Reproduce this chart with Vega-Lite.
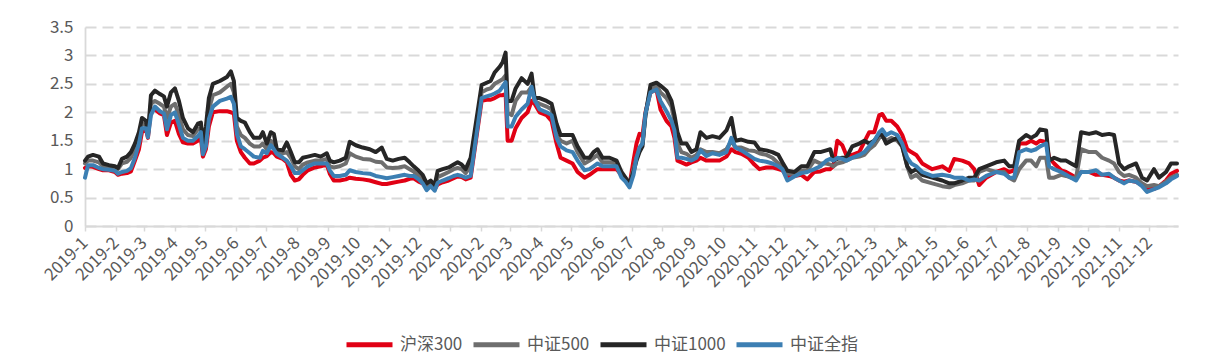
{
  "$schema": "https://vega.github.io/schema/vega-lite/v6.json",
  "width": 1093,
  "height": 199,
  "autosize": {"type": "none"},
  "padding": {"left": 85, "top": 27, "right": 29, "bottom": 138},
  "background": "white",
  "config": {"view": {"stroke": null}, "font": "Noto Sans CJK SC"},
  "data": {"values": [
    {"date":"2019-01-01","沪深300":1.02,"中证500":1.1,"中证1000":1.15,"中证全指":0.85},
    {"date":"2019-01-04","沪深300":1.05,"中证500":1.15,"中证1000":1.22,"中证全指":1.07},
    {"date":"2019-01-09","沪深300":1.04,"中证500":1.15,"中证1000":1.25,"中证全指":1.07},
    {"date":"2019-01-15","沪深300":1.0,"中证500":1.12,"中证1000":1.22,"中证全指":1.02},
    {"date":"2019-01-19","沪深300":0.98,"中证500":1.05,"中证1000":1.1,"中证全指":1.0},
    {"date":"2019-01-25","沪深300":0.98,"中证500":1.02,"中证1000":1.07,"中证全指":0.99},
    {"date":"2019-01-31","沪深300":0.95,"中证500":1.0,"中证1000":1.05,"中证全指":0.97},
    {"date":"2019-02-03","沪深300":0.9,"中证500":1.0,"中证1000":1.02,"中证全指":0.92},
    {"date":"2019-02-07","沪深300":0.92,"中证500":1.1,"中证1000":1.18,"中证全指":0.95},
    {"date":"2019-02-12","沪深300":0.93,"中证500":1.13,"中证1000":1.22,"中证全指":0.97},
    {"date":"2019-02-16","沪深300":0.96,"中证500":1.2,"中证1000":1.3,"中证全指":1.02},
    {"date":"2019-02-20","沪深300":1.15,"中证500":1.35,"中证1000":1.45,"中证全指":1.2},
    {"date":"2019-02-24","沪深300":1.35,"中证500":1.55,"中证1000":1.65,"中证全指":1.45},
    {"date":"2019-02-27","沪深300":1.65,"中证500":1.8,"中证1000":1.9,"中证全指":1.72},
    {"date":"2019-03-03","沪深300":1.7,"中证500":1.78,"中证1000":1.85,"中证全指":1.72},
    {"date":"2019-03-05","沪深300":1.55,"中证500":1.6,"中证1000":1.62,"中证全指":1.56},
    {"date":"2019-03-08","沪深300":2.05,"中证500":2.15,"中证1000":2.3,"中证全指":1.95},
    {"date":"2019-03-12","沪深300":2.05,"中证500":2.2,"中证1000":2.38,"中证全指":2.1},
    {"date":"2019-03-17","沪深300":1.98,"中证500":2.15,"中证1000":2.32,"中证全指":2.02},
    {"date":"2019-03-21","沪深300":1.95,"中证500":2.1,"中证1000":2.28,"中证全指":1.98},
    {"date":"2019-03-24","沪深300":1.6,"中证500":1.9,"中证1000":2.1,"中证全指":1.7},
    {"date":"2019-03-28","沪深300":1.82,"中证500":2.1,"中证1000":2.35,"中证全指":1.95},
    {"date":"2019-04-01","沪深300":1.85,"中证500":2.15,"中证1000":2.42,"中证全指":2.0},
    {"date":"2019-04-05","沪深300":1.62,"中证500":1.95,"中证1000":2.2,"中证全指":1.78},
    {"date":"2019-04-09","沪深300":1.47,"中证500":1.7,"中证1000":1.9,"中证全指":1.55},
    {"date":"2019-04-14","沪深300":1.45,"中证500":1.6,"中证1000":1.72,"中证全指":1.5},
    {"date":"2019-04-19","沪深300":1.45,"中证500":1.58,"中证1000":1.65,"中证全指":1.5},
    {"date":"2019-04-24","沪深300":1.5,"中证500":1.7,"中证1000":1.8,"中证全指":1.58},
    {"date":"2019-04-27","沪深300":1.55,"中证500":1.72,"中证1000":1.82,"中证全指":1.65},
    {"date":"2019-04-29","沪深300":1.22,"中证500":1.35,"中证1000":1.45,"中证全指":1.26},
    {"date":"2019-05-02","沪深300":1.35,"中证500":1.6,"中证1000":1.75,"中证全指":1.4},
    {"date":"2019-05-05","沪深300":1.75,"中证500":2.05,"中证1000":2.25,"中证全指":1.88},
    {"date":"2019-05-09","沪深300":2.0,"中证500":2.3,"中证1000":2.5,"中证全指":2.1},
    {"date":"2019-05-16","沪深300":2.02,"中证500":2.35,"中证1000":2.55,"中证全指":2.2},
    {"date":"2019-05-23","沪深300":2.02,"中证500":2.45,"中证1000":2.62,"中证全指":2.24},
    {"date":"2019-05-27","沪深300":2.0,"中证500":2.5,"中证1000":2.72,"中证全指":2.27},
    {"date":"2019-05-30","沪深300":1.98,"中证500":2.35,"中证1000":2.55,"中证全指":2.15},
    {"date":"2019-06-02","沪深300":1.5,"中证500":1.75,"中证1000":1.9,"中证全指":1.62},
    {"date":"2019-06-06","沪深300":1.3,"中证500":1.6,"中证1000":1.85,"中证全指":1.4},
    {"date":"2019-06-10","沪深300":1.2,"中证500":1.55,"中证1000":1.82,"中证全指":1.35},
    {"date":"2019-06-15","沪深300":1.1,"中证500":1.45,"中证1000":1.65,"中证全指":1.28},
    {"date":"2019-06-19","沪深300":1.1,"中证500":1.4,"中证1000":1.55,"中证全指":1.22},
    {"date":"2019-06-25","沪深300":1.15,"中证500":1.4,"中证1000":1.55,"中证全指":1.2},
    {"date":"2019-06-28","沪深300":1.2,"中证500":1.45,"中证1000":1.65,"中证全指":1.32},
    {"date":"2019-07-02","沪深300":1.23,"中证500":1.35,"中证1000":1.45,"中证全指":1.28},
    {"date":"2019-07-06","沪深300":1.3,"中证500":1.5,"中证1000":1.65,"中证全指":1.42},
    {"date":"2019-07-09","沪深300":1.28,"中证500":1.45,"中证1000":1.62,"中证全指":1.35},
    {"date":"2019-07-12","沪深300":1.22,"中证500":1.3,"中证1000":1.35,"中证全指":1.27},
    {"date":"2019-07-18","沪深300":1.18,"中证500":1.28,"中证1000":1.33,"中证全指":1.2},
    {"date":"2019-07-22","沪深300":1.12,"中证500":1.3,"中证1000":1.47,"中证全指":1.15},
    {"date":"2019-07-26","沪深300":0.9,"中证500":1.2,"中证1000":1.3,"中证全指":1.05},
    {"date":"2019-07-30","沪深300":0.8,"中证500":1.05,"中证1000":1.12,"中证全指":0.93},
    {"date":"2019-08-03","沪深300":0.82,"中证500":1.0,"中证1000":1.12,"中证全指":0.93},
    {"date":"2019-08-07","沪深300":0.9,"中证500":1.08,"中证1000":1.2,"中证全指":0.98},
    {"date":"2019-08-12","沪深300":0.98,"中证500":1.12,"中证1000":1.22,"中证全指":1.05},
    {"date":"2019-08-19","沪深300":1.03,"中证500":1.15,"中证1000":1.25,"中证全指":1.1},
    {"date":"2019-08-25","沪深300":1.05,"中证500":1.15,"中证1000":1.22,"中证全指":1.1},
    {"date":"2019-08-31","沪深300":1.08,"中证500":1.18,"中证1000":1.28,"中证全指":1.1},
    {"date":"2019-09-03","沪深300":0.92,"中证500":1.05,"中证1000":1.15,"中证全指":0.98},
    {"date":"2019-09-07","沪深300":0.8,"中证500":1.03,"中证1000":1.12,"中证全指":0.88},
    {"date":"2019-09-13","沪深300":0.8,"中证500":1.05,"中证1000":1.15,"中证全指":0.88},
    {"date":"2019-09-19","沪深300":0.82,"中证500":1.1,"中证1000":1.2,"中证全指":0.9},
    {"date":"2019-09-23","沪深300":0.85,"中证500":1.28,"中证1000":1.48,"中证全指":0.98},
    {"date":"2019-09-29","沪深300":0.83,"中证500":1.22,"中证1000":1.42,"中证全指":0.95},
    {"date":"2019-10-06","沪深300":0.82,"中证500":1.18,"中证1000":1.38,"中证全指":0.93},
    {"date":"2019-10-13","沪深300":0.8,"中证500":1.17,"中证1000":1.35,"中证全指":0.92},
    {"date":"2019-10-19","沪深300":0.77,"中证500":1.13,"中证1000":1.3,"中证全指":0.88},
    {"date":"2019-10-25","沪深300":0.74,"中证500":1.12,"中证1000":1.38,"中证全指":0.86},
    {"date":"2019-10-30","沪深300":0.74,"中证500":1.03,"中证1000":1.18,"中证全指":0.84},
    {"date":"2019-11-05","沪深300":0.76,"中证500":1.02,"中证1000":1.15,"中证全指":0.86},
    {"date":"2019-11-11","沪深300":0.78,"中证500":1.03,"中证1000":1.18,"中证全指":0.88},
    {"date":"2019-11-17","沪深300":0.8,"中证500":1.05,"中证1000":1.2,"中证全指":0.9},
    {"date":"2019-11-22","沪深300":0.83,"中证500":1.0,"中证1000":1.12,"中证全指":0.88},
    {"date":"2019-11-26","沪深300":0.84,"中证500":0.96,"中证1000":1.05,"中证全指":0.88},
    {"date":"2019-12-01","沪深300":0.78,"中证500":0.88,"中证1000":0.97,"中证全指":0.82},
    {"date":"2019-12-05","沪深300":0.75,"中证500":0.82,"中证1000":0.9,"中证全指":0.75},
    {"date":"2019-12-09","沪深300":0.68,"中证500":0.7,"中证1000":0.75,"中证全指":0.63},
    {"date":"2019-12-13","沪深300":0.7,"中证500":0.75,"中证1000":0.8,"中证全指":0.7},
    {"date":"2019-12-17","沪深300":0.65,"中证500":0.68,"中证1000":0.72,"中证全指":0.62},
    {"date":"2019-12-20","沪深300":0.73,"中证500":0.86,"中证1000":0.97,"中证全指":0.76},
    {"date":"2019-12-25","沪深300":0.77,"中证500":0.9,"中证1000":1.0,"中证全指":0.8},
    {"date":"2019-12-31","沪深300":0.8,"中证500":0.95,"中证1000":1.03,"中证全指":0.84},
    {"date":"2020-01-05","沪深300":0.84,"中证500":1.0,"中证1000":1.08,"中证全指":0.88},
    {"date":"2020-01-09","沪深300":0.87,"中证500":1.02,"中证1000":1.12,"中证全指":0.9},
    {"date":"2020-01-13","沪深300":0.86,"中证500":1.0,"中证1000":1.08,"中证全指":0.88},
    {"date":"2020-01-17","沪深300":0.82,"中证500":0.93,"中证1000":1.0,"中证全指":0.85},
    {"date":"2020-01-22","沪深300":0.85,"中证500":1.05,"中证1000":1.2,"中证全指":0.88},
    {"date":"2020-02-02","沪深300":2.2,"中证500":2.35,"中证1000":2.48,"中证全指":2.25},
    {"date":"2020-02-07","沪深300":2.22,"中证500":2.4,"中证1000":2.52,"中证全指":2.28},
    {"date":"2020-02-11","沪深300":2.22,"中证500":2.42,"中证1000":2.55,"中证全指":2.3},
    {"date":"2020-02-15","沪深300":2.25,"中证500":2.5,"中证1000":2.7,"中证全指":2.33},
    {"date":"2020-02-20","沪深300":2.3,"中证500":2.55,"中证1000":2.8,"中证全指":2.38},
    {"date":"2020-02-23","沪深300":2.3,"中证500":2.58,"中证1000":2.88,"中证全指":2.45},
    {"date":"2020-02-26","沪深300":2.32,"中证500":2.65,"中证1000":3.05,"中证全指":2.53},
    {"date":"2020-02-28","沪深300":1.5,"中证500":2.0,"中证1000":2.2,"中证全指":1.75},
    {"date":"2020-03-03","沪深300":1.5,"中证500":1.95,"中证1000":2.2,"中证全指":1.75},
    {"date":"2020-03-07","沪深300":1.72,"中证500":2.2,"中证1000":2.42,"中证全指":1.92},
    {"date":"2020-03-13","沪深300":1.9,"中证500":2.35,"中证1000":2.6,"中证全指":2.05},
    {"date":"2020-03-19","沪深300":2.0,"中证500":2.35,"中证1000":2.5,"中证全指":2.15},
    {"date":"2020-03-23","沪深300":2.2,"中证500":2.45,"中证1000":2.68,"中证全指":2.45},
    {"date":"2020-03-26","沪深300":2.15,"中证500":2.2,"中证1000":2.25,"中证全指":2.22},
    {"date":"2020-03-31","沪深300":2.0,"中证500":2.15,"中证1000":2.25,"中证全指":2.05},
    {"date":"2020-04-07","沪深300":1.95,"中证500":2.1,"中证1000":2.2,"中证全指":2.0},
    {"date":"2020-04-12","沪深300":1.85,"中证500":2.05,"中证1000":2.15,"中证全指":1.95},
    {"date":"2020-04-17","沪深300":1.45,"中证500":1.6,"中证1000":1.8,"中证全指":1.55},
    {"date":"2020-04-21","沪深300":1.2,"中证500":1.5,"中证1000":1.6,"中证全指":1.4},
    {"date":"2020-04-27","沪深300":1.15,"中证500":1.45,"中证1000":1.6,"中证全指":1.33},
    {"date":"2020-05-03","沪深300":1.1,"中证500":1.5,"中证1000":1.6,"中证全指":1.3},
    {"date":"2020-05-08","沪深300":0.95,"中证500":1.3,"中证1000":1.4,"中证全指":1.15},
    {"date":"2020-05-15","沪深300":0.85,"中证500":1.1,"中证1000":1.2,"中证全指":0.98},
    {"date":"2020-05-20","沪深300":0.9,"中证500":1.15,"中证1000":1.2,"中证全指":1.0},
    {"date":"2020-05-24","沪深300":0.95,"中证500":1.2,"中证1000":1.3,"中证全指":1.05},
    {"date":"2020-05-28","沪深300":1.0,"中证500":1.25,"中证1000":1.35,"中证全指":1.1},
    {"date":"2020-06-02","沪深300":1.0,"中证500":1.12,"中证1000":1.2,"中证全指":1.05},
    {"date":"2020-06-09","沪深300":1.0,"中证500":1.12,"中证1000":1.2,"中证全指":1.05},
    {"date":"2020-06-16","沪深300":1.0,"中证500":1.1,"中证1000":1.15,"中证全指":1.05},
    {"date":"2020-06-21","沪深300":0.9,"中证500":0.92,"中证1000":0.95,"中证全指":0.85},
    {"date":"2020-06-25","沪深300":0.8,"中证500":0.83,"中证1000":0.85,"中证全指":0.78},
    {"date":"2020-06-29","沪深300":0.72,"中证500":0.73,"中证1000":0.75,"中证全指":0.68},
    {"date":"2020-07-03","沪深300":1.15,"中证500":1.0,"中证1000":0.95,"中证全指":0.9},
    {"date":"2020-07-06","沪深300":1.45,"中证500":1.2,"中证1000":1.15,"中证全指":1.2},
    {"date":"2020-07-09","沪深300":1.62,"中证500":1.35,"中证1000":1.3,"中证全指":1.38},
    {"date":"2020-07-12","沪深300":1.6,"中证500":1.45,"中证1000":1.4,"中证全指":1.45},
    {"date":"2020-07-15","沪深300":2.0,"中证500":1.97,"中证1000":1.95,"中证全指":1.98},
    {"date":"2020-07-20","沪深300":2.35,"中证500":2.42,"中证1000":2.48,"中证全指":2.35},
    {"date":"2020-07-26","沪深300":2.4,"中证500":2.48,"中证1000":2.52,"中证全指":2.4},
    {"date":"2020-07-30","沪深300":2.05,"中证500":2.35,"中证1000":2.47,"中证全指":2.2},
    {"date":"2020-08-05","沪深300":1.85,"中证500":2.25,"中证1000":2.38,"中证全指":2.02},
    {"date":"2020-08-10","沪深300":1.75,"中证500":2.1,"中证1000":2.2,"中证全指":1.85},
    {"date":"2020-08-13","沪深300":1.55,"中证500":1.85,"中证1000":1.95,"中证全指":1.68},
    {"date":"2020-08-16","沪深300":1.15,"中证500":1.45,"中证1000":1.65,"中证全指":1.2},
    {"date":"2020-08-20","沪深300":1.12,"中证500":1.3,"中证1000":1.45,"中证全指":1.2},
    {"date":"2020-08-25","沪深300":1.08,"中证500":1.27,"中证1000":1.45,"中证全指":1.18},
    {"date":"2020-08-30","沪深300":1.12,"中证500":1.2,"中证1000":1.3,"中证全指":1.15},
    {"date":"2020-09-04","沪深300":1.15,"中证500":1.25,"中证1000":1.35,"中证全指":1.2},
    {"date":"2020-09-08","沪深300":1.2,"中证500":1.35,"中证1000":1.65,"中证全指":1.33},
    {"date":"2020-09-14","沪深300":1.15,"中证500":1.3,"中证1000":1.55,"中证全指":1.23},
    {"date":"2020-09-20","沪深300":1.15,"中证500":1.3,"中证1000":1.58,"中证全指":1.28},
    {"date":"2020-09-27","沪深300":1.15,"中证500":1.28,"中证1000":1.55,"中证全指":1.25},
    {"date":"2020-10-04","沪深300":1.22,"中证500":1.35,"中证1000":1.68,"中证全指":1.3},
    {"date":"2020-10-09","沪深300":1.35,"中证500":1.5,"中证1000":1.9,"中证全指":1.55},
    {"date":"2020-10-13","沪深300":1.3,"中证500":1.38,"中证1000":1.5,"中证全指":1.38},
    {"date":"2020-10-19","沪深300":1.27,"中证500":1.38,"中证1000":1.52,"中证全指":1.33},
    {"date":"2020-10-26","沪深300":1.2,"中证500":1.33,"中证1000":1.48,"中证全指":1.25},
    {"date":"2020-11-01","沪深300":1.08,"中证500":1.32,"中证1000":1.47,"中证全指":1.18},
    {"date":"2020-11-06","沪深300":1.0,"中证500":1.28,"中证1000":1.35,"中证全指":1.15},
    {"date":"2020-11-13","沪深300":1.03,"中证500":1.25,"中证1000":1.33,"中证全指":1.13},
    {"date":"2020-11-19","沪深300":1.03,"中证500":1.2,"中证1000":1.3,"中证全指":1.1},
    {"date":"2020-11-25","沪深300":1.0,"中证500":1.1,"中证1000":1.25,"中证全指":1.05},
    {"date":"2020-11-29","沪深300":0.98,"中证500":1.05,"中证1000":1.12,"中证全指":1.0},
    {"date":"2020-12-04","沪深300":0.87,"中证500":0.92,"中证1000":0.97,"中证全指":0.8},
    {"date":"2020-12-11","沪深300":0.88,"中证500":0.92,"中证1000":0.95,"中证全指":0.87},
    {"date":"2020-12-18","沪深300":0.9,"中证500":0.97,"中证1000":1.05,"中证全指":0.93},
    {"date":"2020-12-24","沪深300":0.82,"中证500":0.98,"中证1000":1.05,"中证全指":0.95},
    {"date":"2020-12-31","沪深300":0.95,"中证500":1.15,"中证1000":1.3,"中证全指":1.0},
    {"date":"2021-01-06","沪深300":0.96,"中证500":1.1,"中证1000":1.3,"中证全指":1.05},
    {"date":"2021-01-12","沪深300":1.0,"中证500":1.1,"中证1000":1.33,"中证全指":1.15},
    {"date":"2021-01-16","沪深300":1.0,"中证500":1.08,"中证1000":1.35,"中证全指":1.18},
    {"date":"2021-01-19","沪深300":1.05,"中证500":1.05,"中证1000":1.15,"中证全指":1.15},
    {"date":"2021-01-23","沪深300":1.5,"中证500":1.1,"中证1000":1.18,"中证全指":1.2},
    {"date":"2021-01-28","沪深300":1.42,"中证500":1.12,"中证1000":1.2,"中证全指":1.18},
    {"date":"2021-02-01","沪深300":1.25,"中证500":1.15,"中证1000":1.2,"中证全指":1.15},
    {"date":"2021-02-07","沪深300":1.25,"中证500":1.2,"中证1000":1.4,"中证全指":1.2},
    {"date":"2021-02-14","沪深300":1.3,"中证500":1.22,"中证1000":1.45,"中证全指":1.25},
    {"date":"2021-02-19","沪深300":1.48,"中证500":1.25,"中证1000":1.5,"中证全指":1.3},
    {"date":"2021-02-24","沪深300":1.65,"中证500":1.35,"中证1000":1.45,"中证全指":1.4},
    {"date":"2021-03-01","沪深300":1.65,"中证500":1.42,"中证1000":1.5,"中证全指":1.5},
    {"date":"2021-03-06","沪深300":1.95,"中证500":1.55,"中证1000":1.62,"中证全指":1.65},
    {"date":"2021-03-09","沪深300":1.97,"中证500":1.6,"中证1000":1.6,"中证全指":1.7},
    {"date":"2021-03-13","沪深300":1.85,"中证500":1.5,"中证1000":1.45,"中证全指":1.6},
    {"date":"2021-03-18","沪深300":1.85,"中证500":1.55,"中证1000":1.5,"中证全指":1.65},
    {"date":"2021-03-24","沪深300":1.75,"中证500":1.5,"中证1000":1.55,"中证全指":1.6},
    {"date":"2021-03-29","沪深300":1.6,"中证500":1.4,"中证1000":1.4,"中证全指":1.45},
    {"date":"2021-04-03","沪深300":1.35,"中证500":1.05,"中证1000":1.05,"中证全指":1.2},
    {"date":"2021-04-07","沪深300":1.3,"中证500":0.85,"中证1000":0.95,"中证全指":1.1},
    {"date":"2021-04-12","沪深300":1.25,"中证500":0.9,"中证1000":1.0,"中证全指":1.05},
    {"date":"2021-04-18","沪深300":1.1,"中证500":0.8,"中证1000":0.9,"中证全指":0.95},
    {"date":"2021-04-28","沪深300":1.0,"中证500":0.75,"中证1000":0.85,"中证全指":0.88},
    {"date":"2021-05-08","沪深300":1.05,"中证500":0.7,"中证1000":0.8,"中证全指":0.9},
    {"date":"2021-05-15","沪深300":0.97,"中证500":0.68,"中证1000":0.75,"中证全指":0.88},
    {"date":"2021-05-20","沪深300":1.18,"中证500":0.72,"中证1000":0.75,"中证全指":0.85},
    {"date":"2021-05-28","沪深300":1.15,"中证500":0.75,"中证1000":0.8,"中证全指":0.85},
    {"date":"2021-06-04","沪深300":1.1,"中证500":0.8,"中证1000":0.85,"中证全指":0.8},
    {"date":"2021-06-09","沪深300":1.0,"中证500":0.8,"中证1000":0.85,"中证全指":0.82},
    {"date":"2021-06-14","沪深300":0.72,"中证500":0.95,"中证1000":1.0,"中证全指":0.8},
    {"date":"2021-06-21","沪深300":0.85,"中证500":1.0,"中证1000":1.05,"中证全指":0.88},
    {"date":"2021-07-01","沪深300":0.95,"中证500":0.95,"中证1000":1.12,"中证全指":0.95},
    {"date":"2021-07-09","沪深300":1.0,"中证500":0.95,"中证1000":1.15,"中证全指":0.92},
    {"date":"2021-07-14","沪深300":0.95,"中证500":0.85,"中证1000":1.05,"中证全指":0.85},
    {"date":"2021-07-19","沪深300":0.98,"中证500":0.8,"中证1000":1.05,"中证全指":0.85},
    {"date":"2021-07-24","沪深300":1.45,"中证500":1.0,"中证1000":1.5,"中证全指":1.3},
    {"date":"2021-07-31","沪深300":1.45,"中证500":1.15,"中证1000":1.6,"中证全指":1.35},
    {"date":"2021-08-05","沪深300":1.5,"中证500":1.15,"中证1000":1.55,"中证全指":1.32},
    {"date":"2021-08-10","沪深300":1.45,"中证500":1.05,"中证1000":1.6,"中证全指":1.35},
    {"date":"2021-08-14","沪深300":1.5,"中证500":1.2,"中证1000":1.7,"中证全指":1.4},
    {"date":"2021-08-20","沪深300":1.48,"中证500":1.2,"中证1000":1.68,"中证全指":1.45},
    {"date":"2021-08-23","沪深300":1.2,"中证500":0.85,"中证1000":1.15,"中证全指":1.05},
    {"date":"2021-08-28","沪深300":1.1,"中证500":0.85,"中证1000":1.2,"中证全指":1.0},
    {"date":"2021-09-04","沪深300":0.98,"中证500":0.9,"中证1000":1.15,"中证全指":0.95},
    {"date":"2021-09-09","沪深300":0.95,"中证500":0.88,"中证1000":1.15,"中证全指":0.9},
    {"date":"2021-09-14","沪深300":0.9,"中证500":0.85,"中证1000":1.1,"中证全指":0.85},
    {"date":"2021-09-19","沪深300":0.85,"中证500":0.85,"中证1000":1.05,"中证全指":0.8},
    {"date":"2021-09-24","沪深300":0.95,"中证500":1.35,"中证1000":1.65,"中证全指":0.95},
    {"date":"2021-10-02","沪深300":0.95,"中证500":1.3,"中证1000":1.62,"中证全指":0.95},
    {"date":"2021-10-09","沪深300":0.9,"中证500":1.3,"中证1000":1.65,"中证全指":0.98},
    {"date":"2021-10-15","沪深300":0.9,"中证500":1.2,"中证1000":1.6,"中证全指":0.9},
    {"date":"2021-10-22","沪深300":0.88,"中证500":1.15,"中证1000":1.62,"中证全指":0.92},
    {"date":"2021-10-27","沪深300":0.85,"中证500":1.1,"中证1000":1.6,"中证全指":0.85},
    {"date":"2021-11-01","沪深300":0.8,"中证500":0.95,"中证1000":1.1,"中证全指":0.8},
    {"date":"2021-11-06","沪深300":0.78,"中证500":0.88,"中证1000":1.0,"中证全指":0.75},
    {"date":"2021-11-11","沪深300":0.8,"中证500":0.9,"中证1000":1.05,"中证全指":0.8},
    {"date":"2021-11-18","沪深300":0.78,"中证500":0.85,"中证1000":1.1,"中证全指":0.78},
    {"date":"2021-11-24","沪深300":0.72,"中证500":0.75,"中证1000":0.85,"中证全指":0.7},
    {"date":"2021-11-29","沪深300":0.65,"中证500":0.7,"中证1000":0.8,"中证全指":0.6},
    {"date":"2021-12-06","沪深300":0.65,"中证500":0.72,"中证1000":1.0,"中证全指":0.65},
    {"date":"2021-12-11","沪深300":0.7,"中证500":0.7,"中证1000":0.85,"中证全指":0.68},
    {"date":"2021-12-18","沪深300":0.8,"中证500":0.78,"中证1000":0.95,"中证全指":0.75},
    {"date":"2021-12-23","沪深300":0.92,"中证500":0.85,"中证1000":1.1,"中证全指":0.82},
    {"date":"2021-12-29","沪深300":0.97,"中证500":0.9,"中证1000":1.1,"中证全指":0.88}
  ]},
  "transform": [{"fold": ["沪深300", "中证500", "中证1000", "中证全指"], "as": ["series", "value"]}],
  "mark": {"type": "line", "strokeWidth": 4, "strokeJoin": "round", "strokeCap": "round"},
  "encoding": {
    "x": {
      "field": "date", "type": "temporal",
      "scale": {"type": "utc", "domain": [{"year": 2019, "month": 1, "date": 1, "utc": true}, {"year": 2021, "month": 12, "date": 30, "utc": true}]},
      "axis": {
        "title": null,
        "labelExpr": "utcFormat(datum.value, '%Y-%-m')",
        "tickCount": {"interval": "month", "step": 1},
        "labelAngle": -45, "labelAlign": "right", "labelBaseline": "middle",
        "labelPadding": 9, "labelFontSize": 17, "labelColor": "#595959",
        "labelOverlap": false, "labelFlush": false, "labelBound": false,
        "tickSize": 5, "tickColor": "#D9D9D9", "tickWidth": 1.5,
        "domainColor": "#D9D9D9", "domainWidth": 1.8, "grid": false
      }
    },
    "y": {
      "field": "value", "type": "quantitative",
      "scale": {"domain": [0, 3.5], "nice": false},
      "axis": {
        "title": null, "values": [0, 0.5, 1, 1.5, 2, 2.5, 3, 3.5], "format": "~f",
        "grid": true, "gridDash": [11, 6], "gridColor": "#D9D9D9", "gridWidth": 1.8,
        "ticks": false, "domain": true, "domainColor": "#D9D9D9", "domainWidth": 1.8,
        "labelFontSize": 17, "labelColor": "#595959", "labelPadding": 12
      }
    },
    "color": {
      "field": "series", "type": "nominal",
      "scale": {"domain": ["沪深300", "中证500", "中证1000", "中证全指"], "range": ["#E10014", "#6E6E6E", "#262626", "#3C7FB3"]},
      "legend": {
        "title": null, "orient": "none", "legendX": 259, "legendY": 292,
        "direction": "horizontal", "symbolType": "stroke", "symbolSize": 2116,
        "symbolStrokeWidth": 5, "labelFontSize": 17, "labelColor": "#595959",
        "labelOffset": 5, "columnPadding": 0, "labelLimit": 200
      }
    }
  }
}
